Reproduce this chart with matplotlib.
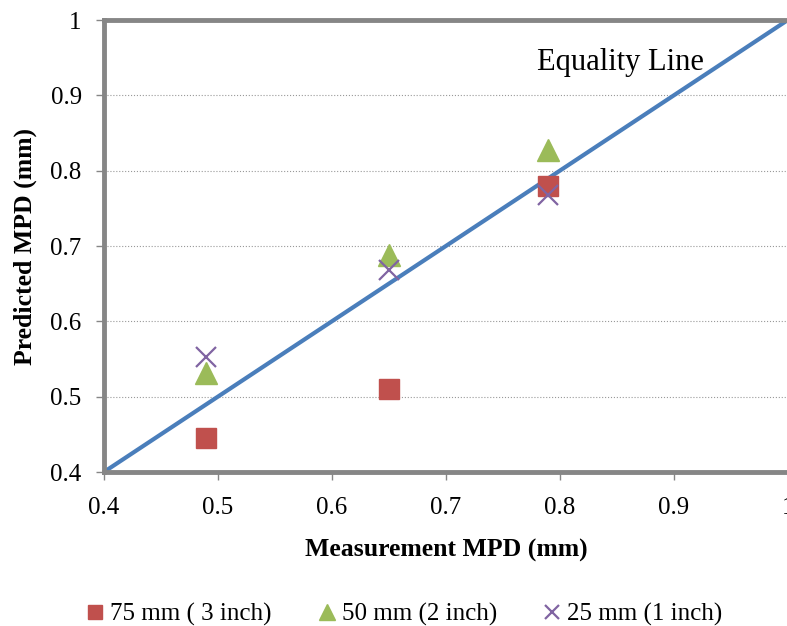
import matplotlib.pyplot as plt
import numpy as np

plt.rcParams['font.family'] = ['Liberation Serif', 'DejaVu Serif']

# Measured vs predicted MPD for three sample sizes
measured = [0.49, 0.65, 0.79]
pred_75 = [0.445, 0.51, 0.78]
pred_50 = [0.532, 0.688, 0.828]
pred_25 = [0.553, 0.668, 0.768]

x_ticks = [0.4, 0.5, 0.6, 0.7, 0.8, 0.9, 1.0]
x_tick_labels = ['0.4', '0.5', '0.6', '0.7', '0.8', '0.9', '1']
y_ticks = [0.4, 0.5, 0.6, 0.7, 0.8, 0.9, 1.0]
y_tick_labels = ['0.4', '0.5', '0.6', '0.7', '0.8', '0.9', '1']

fig = plt.figure(figsize=(7.87, 6.26), dpi=100)
ax = fig.add_axes([0.132, 0.246, 0.869, 0.722])

# equality line
ax.plot([0.4, 1.0], [0.4, 1.0], color='#4a7ebb', linewidth=3, zorder=2)

ax.plot(measured, pred_75, linestyle='none', marker='s', markersize=15,
        color='#c0504d', label='75 mm ( 3 inch)', zorder=3)
ax.plot(measured, pred_50, linestyle='none', marker='^', markersize=16,
        color='#9bbb59', label='50 mm (2 inch)', zorder=3)
ax.plot(measured, pred_25, linestyle='none', marker='x', markersize=14,
        markeredgewidth=1.6, color='#8064a2', label='25 mm (1 inch)', zorder=4)

ax.text(0.78, 0.944, 'Equality Line', fontsize=22, va='center', ha='left')

ax.set_xlim(0.4, 1.0)
ax.set_ylim(0.4, 1.0)
ax.set_xticks(x_ticks)
ax.set_xticklabels(x_tick_labels)
ax.set_yticks(y_ticks)
ax.set_yticklabels(y_tick_labels)
ax.tick_params(axis='both', labelsize=18, direction='out', length=6,
               width=1, color='#868686', pad=10)
ax.tick_params(axis='x', pad=12)

ax.yaxis.grid(True, linestyle=':', color='#999999', linewidth=0.8)
ax.set_axisbelow(True)

for side in ['left', 'top', 'bottom']:
    ax.spines[side].set_color('#868686')
    ax.spines[side].set_linewidth(3.5)
ax.spines['right'].set_color('#bbbbbb')
ax.spines['right'].set_linewidth(1)

ax.set_xlabel('Measurement MPD (mm)', fontsize=18.5, fontweight='bold', labelpad=14)
ax.set_ylabel('Predicted MPD (mm)', fontsize=18.5, fontweight='bold', labelpad=10)

fig.legend(loc='lower center', bbox_to_anchor=(0.51, -0.036), ncol=3,
           frameon=False, fontsize=18, handletextpad=0.0, columnspacing=1.6,
           handlelength=1.2, markerscale=0.7)

fig.savefig('out.png', dpi=100)
